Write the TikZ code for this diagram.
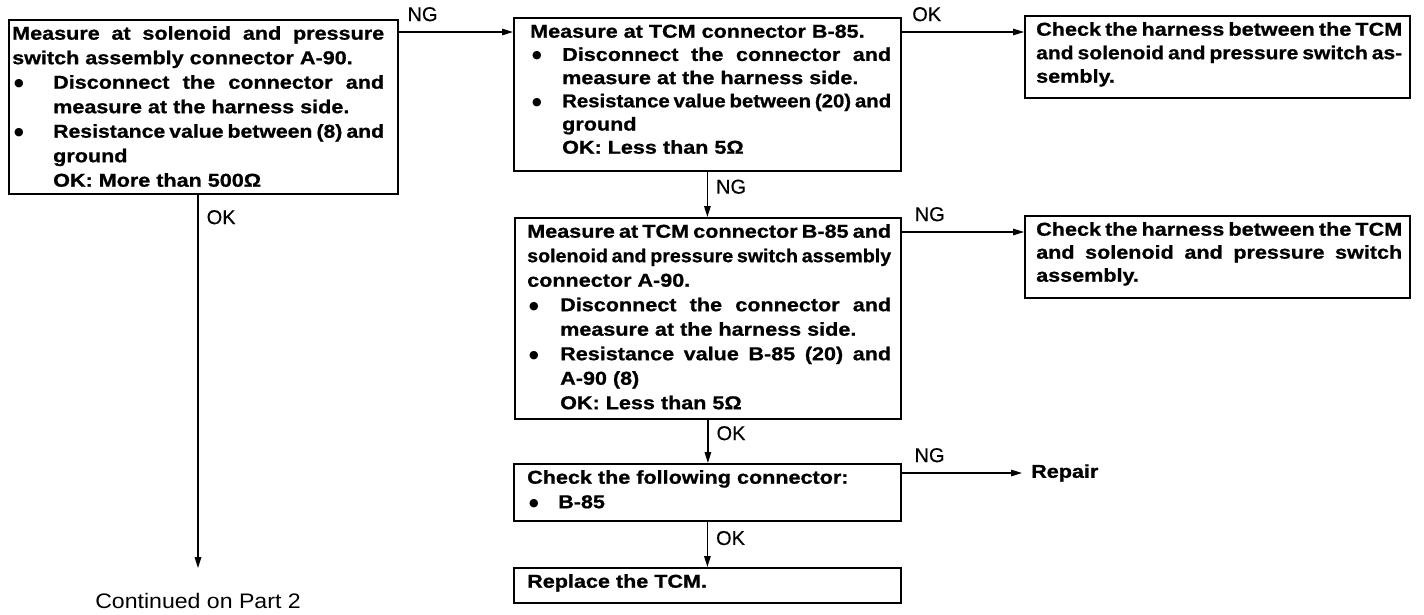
\documentclass[tikz,border=0pt]{standalone}
\usepackage{fontspec}
\usepackage{graphicx}
\usetikzlibrary{arrows.meta}
\newfontfamily\bodyfont{Liberation Sans}[FakeStretch=1.16, BoldFeatures={FakeBold=0.9}]
\newfontfamily\labfont{Liberation Sans}[FakeBold=0.3]
\newfontfamily\contfont{Liberation Sans}[FakeStretch=1.1]
\newfontfamily\symfont{DejaVu Sans}
\newlength\bind
\newlength\fw
\newcommand\fitline[2]{\setlength\fw{#1}\setbox0=\hbox{#2}\ifdim\wd0>\fw\relax\resizebox{\fw}{\height}{\spaceskip=0.22em\relax #2}\else\makebox[\fw][s]{#2}\fi}
\newcommand\JL[1]{\noindent\fitline{\hsize}{#1}\par}
\newcommand\RL[1]{\noindent #1\par}
\newcommand\bul{\makebox[\bind][l]{\hspace{2pt}\raisebox{2pt}{\symfont\fontsize{11pt}{11pt}\selectfont ●}}}
\newcommand\BJ[1]{\noindent\bul\fitline{\dimexpr\hsize-\bind\relax}{#1}\par}
\newcommand\BR[1]{\noindent\bul #1\par}
\newcommand\IR[1]{\noindent\hspace*{\bind}#1\par}
\newcommand\fs{\leavevmode\rule{0pt}{15pt}}
\newcommand\mkbox[9]{%
  \node[boxst, minimum width=#4pt, minimum height=#5pt] (#1) at (#2,#3) {};
  \node[txtst, text width=#7pt] (#1t) at ([xshift=#6pt,yshift=-5.5pt]#1.north west) {\fontsize{18.6pt}{#8pt}\selectfont\spaceskip=0pt\xspaceskip=0pt\rightskip=0pt\parfillskip=0pt plus 1fil #9};}
\tikzset{
  boxst/.style={draw, line width=1.8pt, inner sep=0pt, anchor=north west},
  txtst/.style={inner sep=0pt, anchor=north west, align=justify, font=\bodyfont\bfseries},
  arr/.style={line width=1.4pt, -{Triangle[length=11pt,width=6.5pt]}},
  hlab/.style={font=\labfont\fontsize{20pt}{20pt}\selectfont, inner sep=0pt, anchor=south west, yshift=10pt},
  vlab/.style={font=\labfont\fontsize{20pt}{20pt}\selectfont, inner sep=0pt, anchor=west, xshift=8pt},
  contst/.style={font=\contfont\fontsize{21pt}{21pt}\selectfont, inner sep=0pt, anchor=base},
  repst/.style={font=\bodyfont\bfseries\fontsize{18.6pt}{20pt}\selectfont, inner ysep=0pt, inner xsep=9pt, anchor=west}
}
\begin{document}
\begin{tikzpicture}[x=1pt,y=-1pt]
\useasboundingbox (0,0) rectangle (1424,614);
\setlength\bind{41pt}
\mkbox{b1}{8}{19}{389}{174}{4}{372}{24.5}{\fs\JL{Measure at solenoid and pressure}
\RL{switch assembly connector A-90.}
\BJ{Disconnect the connector and}
\IR{measure at the harness side.}
\BJ{Resistance value between (8) and}
\IR{ground}
\IR{OK: More than 500Ω}}
\setlength\bind{32pt}
\mkbox{b2}{513}{17}{387}{153}{17}{361}{23.2}{\fs\RL{Measure at TCM connector B-85.}
\BJ{Disconnect the connector and}
\IR{measure at the harness side.}
\BJ{Resistance value between (20) and}
\IR{ground}
\IR{OK: Less than 5Ω}}
\mkbox{b3}{1024}{15}{385}{82}{12}{366}{23.5}{\fs\JL{Check the harness between the TCM}
\JL{and solenoid and pressure switch as-}
\RL{sembly.}}
\setlength\bind{33pt}
\mkbox{b4}{514}{217}{386}{201}{13}{364}{24.5}{\fs\JL{Measure at TCM connector B-85 and}
\JL{solenoid and pressure switch assembly}
\RL{connector A-90.}
\BJ{Disconnect the connector and}
\IR{measure at the harness side.}
\BJ{Resistance value B-85 (20) and}
\IR{A-90 (8)}
\IR{OK: Less than 5Ω}}
\mkbox{b5}{1024}{215}{385}{82}{12}{366}{23}{\fs\JL{Check the harness between the TCM}
\JL{and solenoid and pressure switch}
\RL{assembly.}}
\setlength\bind{31pt}
\mkbox{b6}{513}{463}{387}{57}{14}{360}{24.5}{\fs\RL{Check the following connector:}
\BR{B-85}}
\mkbox{b7}{513}{567}{387}{35}{14}{360}{24}{\fs\RL{Replace the TCM.}}
\node[repst] (rep) at (1022,473) {Repair};
\node[contst] (cont) at (198,608) {Continued on Part 2};
% connectors
\draw[arr] ([yshift=-13pt]b1.north east) -- node[hlab, pos=0.07] {NG} ([yshift=-15pt]b2.north west);
\draw[arr] ([yshift=-15pt]b2.north east) -- node[hlab, pos=0.08] {OK} ([yshift=-17pt]b3.north west);
\draw[arr] (b2.south) -- node[vlab, pos=0.33] {NG} (b2.south |- b4.north);
\draw[arr] ([yshift=-15pt]b4.north east) -- node[hlab, pos=0.1] {NG} ([yshift=-17pt]b5.north west);
\draw[arr] (b4.south) -- node[vlab, pos=0.31] {OK} (b4.south |- b6.north);
\draw[arr] ([yshift=-10pt]b6.north east) -- node[hlab, pos=0.1] {NG} (rep.west);
\draw[arr] (b6.south) -- node[vlab, pos=0.36] {OK} (b6.south |- b7.north);
\draw[arr] (b1.south -| cont.north) -- node[vlab, pos=0.06] {OK} ([yshift=24.5pt]cont.north);
\end{tikzpicture}
\end{document}
